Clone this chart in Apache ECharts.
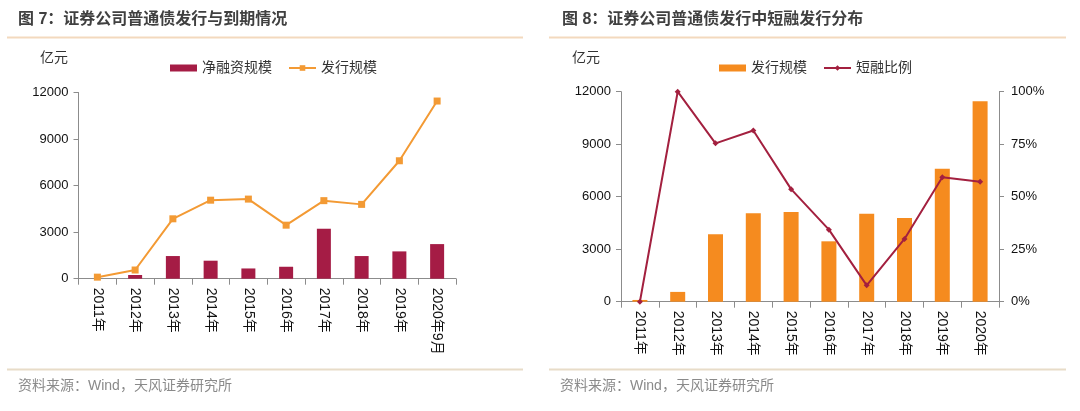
<!DOCTYPE html>
<html lang="zh">
<head>
	<meta charset="UTF-8">
	<title>证券公司普通债发行</title>
	<script src="https://cdn.jsdelivr.net/npm/echarts@6/dist/echarts.min.js"></script>
	<style>
		html, body { margin: 0; padding: 0; background: #fff; }
	</style>
</head>
<body>
	<div id="main" style="width:1080px; height:411px"></div>
	<script>
		// 数据
		var years7 = ["2011年", "2012年", "2013年", "2014年", "2015年", "2016年", "2017年", "2018年", "2019年", "2020年9月"];
		var years8 = ["2011年", "2012年", "2013年", "2014年", "2015年", "2016年", "2017年", "2018年", "2019年", "2020年"];
		var netFinancing = [0, 240, 1460, 1160, 660, 770, 3220, 1460, 1760, 2230];
		var issueScale = [100, 560, 3860, 5060, 5130, 3450, 5030, 4790, 7600, 11450];
		var shortRatio = [0, 1.0, 0.754, 0.815, 0.536, 0.343, 0.078, 0.299, 0.593, 0.571];

		var font = "'Liberation Sans', Arial, 'Noto Sans CJK SC', sans-serif";
		var axisGrey = "#8c8c8c";
		var crimson = "#A51C45";
		var orange = "#F39A34";
		var orangeBar = "#F58B1F";
		var lineColor = "#F3D9BE";

		var myChart = echarts.init(document.getElementById("main"));

		function catAxis(grid, data) {
			return {
				type: "category",
				gridIndex: grid,
				data: data,
				axisLine: { lineStyle: { color: axisGrey, width: 1 } },
				axisTick: { show: true, length: 6, lineStyle: { color: axisGrey } },
				axisLabel: { rotate: -90, margin: 9, color: "#111", fontSize: 14, fontFamily: font }
			};
		}

		function valAxis(grid, pos) {
			return {
				type: "value",
				gridIndex: grid,
				position: pos,
				min: 0,
				max: 12000,
				interval: 3000,
				splitLine: { show: false },
				axisLine: { show: true, lineStyle: { color: axisGrey } },
				axisTick: { show: true, length: 5, lineStyle: { color: axisGrey } },
				axisLabel: {
					color: "#111", fontSize: 13, margin: 10, fontFamily: font,
					formatter: function (v) { return String(v); }
				}
			};
		}

		myChart.setOption({
			animation: false,
			textStyle: { fontFamily: font },
			graphic: [
				{ type: "text", left: 18, top: 12, style: { text: "图 7：证券公司普通债发行与到期情况", fontSize: 16, fontWeight: "bold", fill: "#404040", fontFamily: font } },
				{ type: "text", left: 562, top: 12, style: { text: "图 8：证券公司普通债发行中短融发行分布", fontSize: 16, fontWeight: "bold", fill: "#404040", fontFamily: font } },
				{ type: "line", shape: { x1: 7, y1: 37.5, x2: 523, y2: 37.5 }, style: { stroke: lineColor, lineWidth: 2 } },
				{ type: "line", shape: { x1: 549, y1: 37.5, x2: 1066, y2: 37.5 }, style: { stroke: lineColor, lineWidth: 2 } },
				{ type: "line", shape: { x1: 7, y1: 369.5, x2: 523, y2: 369.5 }, style: { stroke: "#E8DCC8", lineWidth: 2 } },
				{ type: "line", shape: { x1: 549, y1: 369.5, x2: 1066, y2: 369.5 }, style: { stroke: "#E8DCC8", lineWidth: 2 } },
				{ type: "text", left: 18, top: 379, style: { text: "资料来源：Wind，天风证券研究所", fontSize: 14, fill: "#8a8a8a", fontFamily: font } },
				{ type: "text", left: 560, top: 379, style: { text: "资料来源：Wind，天风证券研究所", fontSize: 14, fill: "#8a8a8a", fontFamily: font } },
				{ type: "text", left: 40, top: 51, style: { text: "亿元", fontSize: 14, fill: "#333", fontFamily: font } },
				{ type: "text", left: 572, top: 51, style: { text: "亿元", fontSize: 14, fill: "#333", fontFamily: font } }
			],
			legend: [
				{
					left: 165, top: 56, itemWidth: 27, itemHeight: 7, itemGap: 16,
					textStyle: { fontSize: 14, color: "#333", fontFamily: font },
					data: [
						{ name: "净融资规模", icon: "rect" },
						{ name: "发行规模" }
					]
				},
				{
					left: 714, top: 56, itemWidth: 27, itemHeight: 7, itemGap: 16,
					textStyle: { fontSize: 14, color: "#333", fontFamily: font },
					data: [
						{ name: "发行规模 ", icon: "rect" },
						{ name: "短融比例" }
					],
					formatter: function (n) { return n.trim(); }
				}
			],
			grid: [
				{ left: 78.5, right: 624, top: 92.5, bottom: 132.3 },
				{ left: 621, right: 81, top: 91.7, bottom: 109.3 }
			],
			xAxis: [catAxis(0, years7), catAxis(1, years8)],
			yAxis: [
				valAxis(0, "left"),
				valAxis(1, "left"),
				{
					type: "value",
					gridIndex: 1,
					position: "right",
					min: 0,
					max: 1,
					interval: 0.25,
					splitLine: { show: false },
					axisLine: { show: true, lineStyle: { color: axisGrey } },
					axisTick: { show: true, length: 5, lineStyle: { color: axisGrey } },
					axisLabel: {
						color: "#111", fontSize: 13, margin: 12, fontFamily: font,
						formatter: function (v) { return Math.round(v * 100) + "%"; }
					}
				}
			],
			series: [
				{
					name: "净融资规模",
					type: "bar",
					xAxisIndex: 0, yAxisIndex: 0,
					barWidth: 14,
					itemStyle: { color: crimson },
					data: netFinancing
				},
				{
					name: "发行规模",
					type: "line",
					xAxisIndex: 0, yAxisIndex: 0,
					symbol: "rect",
					symbolSize: 7,
					lineStyle: { color: orange, width: 2 },
					itemStyle: { color: orange },
					data: issueScale
				},
				{
					name: "发行规模 ",
					type: "bar",
					xAxisIndex: 1, yAxisIndex: 1,
					barWidth: 15,
					itemStyle: { color: orangeBar },
					data: issueScale
				},
				{
					name: "短融比例",
					type: "line",
					xAxisIndex: 1, yAxisIndex: 2,
					symbol: "diamond",
					symbolSize: 6,
					lineStyle: { color: "#A3203F", width: 2 },
					itemStyle: { color: "#A3203F" },
					data: shortRatio
				}
			]
		});
	</script>
</body>
</html>
